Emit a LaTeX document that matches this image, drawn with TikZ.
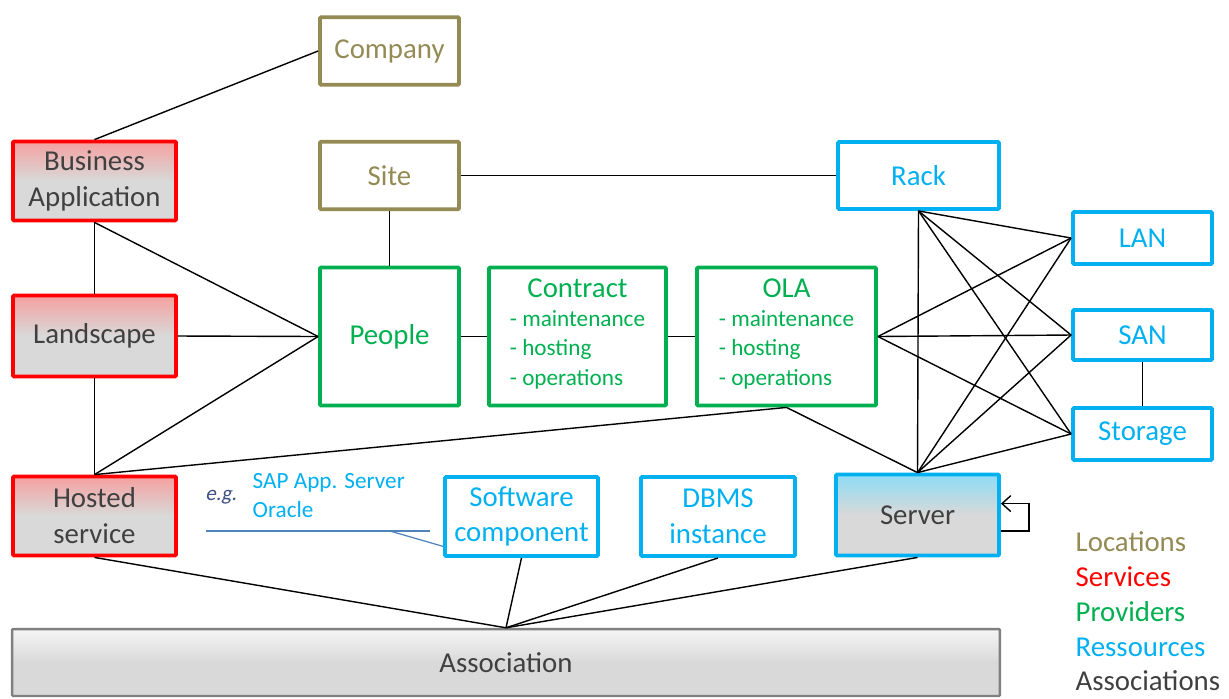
\documentclass[tikz,border=0pt]{standalone}
\usepackage{fontspec}
\setmainfont{Carlito}
\newfontfamily\egfont[FakeSlant=0.2]{Carlito}
\usepackage{xcolor}
\usepackage{tikz}
\usetikzlibrary{arrows.meta,positioning,calc}
\definecolor{locol}{RGB}{148,138,84}
\definecolor{svcol}{RGB}{255,0,0}
\definecolor{prcol}{RGB}{0,176,80}
\definecolor{recol}{RGB}{0,176,240}
\definecolor{ascol}{RGB}{64,64,64}
\definecolor{boxgray}{RGB}{217,217,217}
\definecolor{svtop}{RGB}{245,160,160}
\definecolor{retop}{RGB}{140,220,245}
\definecolor{egcol}{RGB}{79,129,189}
\definecolor{egdark}{RGB}{60,80,130}
\newcommand{\bigtxt}{\fontsize{16.4pt}{20.4pt}\selectfont}
\newcommand{\smalltxt}{\fontsize{13.2pt}{17pt}\selectfont}
\tikzset{
  every node/.append style={font=\bigtxt},
  box/.style={draw, line width=2.2pt, rounded corners=0.6pt, align=center, inner sep=2pt},
  locbox/.style={box, draw=locol, text=locol, minimum width=2.78cm, minimum height=1.35cm},
  svcbox/.style={box, draw=svcol, text=ascol, minimum width=3.26cm,
    top color=svtop, bottom color=boxgray, middle color=boxgray},
  provbox/.style={box, draw=prcol, text=prcol, minimum height=2.76cm},
  resbox/.style={box, draw=recol, text=recol},
  assocbox/.style={box, draw=black!50, line width=1.4pt, text=ascol,
    top color=white!96!black, bottom color=boxgray, middle color=boxgray},
  legend/.style={anchor=base west, inner sep=0pt, text depth=0pt}
}

\begin{document}
\begin{tikzpicture}[x=0.02cm, y=-0.02cm, line width=0.8pt]
      \useasboundingbox (0,0) rectangle (1229,698);

      \node[locbox] at (389.5,51) (company) {Company};
      \node[locbox] at (389.5,175.5) (site) {Site};

      \node[svcbox, minimum height=1.58cm] at (94.5,181) (bizapp) {Business\\Application};
      \node[svcbox, minimum height=1.62cm] at (94.5,336) (landscape) {Landscape};
      \node[svcbox, minimum height=1.58cm] at (94.5,516) (hosted) {Hosted\\service};

      \node[provbox, minimum width=2.78cm] at (389.5,336.5) (people) {People};
      \node[provbox, minimum width=3.54cm] at (577.5,336.5) (contract)
        {Contract\\[3.5pt]{\smalltxt\begin{tabular}{@{}l@{}}- maintenance\\- hosting\\- operations\end{tabular}}};
      \node[provbox, minimum width=3.58cm] at (786.5,336.5) (ola)
        {OLA\\[3.5pt]{\smalltxt\begin{tabular}{@{}l@{}}- maintenance\\- hosting\\- operations\end{tabular}}};

      \node[resbox, minimum width=3.22cm, minimum height=1.34cm] at (918.5,175.5) (rack) {Rack};
      \node[resbox, minimum width=2.78cm, minimum height=1.04cm] at (1142.5,238) (lan) {LAN};
      \node[resbox, minimum width=2.78cm, minimum height=1.0cm] at (1142.5,335) (san) {SAN};
      \node[resbox, minimum width=2.78cm, minimum height=1.04cm] at (1142.5,434) (storage) {Storage};
      \node[resbox, minimum width=3.06cm, minimum height=1.58cm] at (521.5,516.5) (software) {Software\\component};
      \node[resbox, minimum width=3.08cm, minimum height=1.58cm] at (718,516.5) (dbms) {DBMS\\instance};
      \node[resbox, text=ascol, minimum width=3.26cm, minimum height=1.62cm,
        top color=retop, bottom color=boxgray, middle color=boxgray] at (917.5,515) (server) {Server};

      \node[assocbox, minimum width=19.76cm, minimum height=1.34cm] at (506,662.5) (assoc) {Association};

      \node[font=\fontsize{12pt}{14pt}\egfont, text=egdark] at (221,497) (eg) {e.g.};
      \node[legend, anchor=west, text depth=, font=\smalltxt, text=recol, align=left] at (252,495.5) (egtext)
        {SAP App. Server\\[-0.5pt]Oracle};
      \coordinate (egleft) at (206,531);
      \coordinate (egright) at (430,531);
      \coordinate (egknee) at (390,531);
      \draw[egcol, line width=0.7pt] (egleft) -- (egright);
      \draw[egcol, line width=0.7pt] (egknee) -- ([yshift=-17pt]software.west);

      \draw (bizapp.north) -- (company.west);
      \draw (bizapp.south) -- (landscape.north);
      \draw (bizapp.south) -- (people.west);
      \draw (landscape.east) -- (people.west);
      \draw (landscape.south) -- (hosted.north);
      \draw (hosted.north) -- (people.west);
      \draw (hosted.north) -- (ola.south);
      \draw (site.south) -- (people.north);
      \draw (site.east) -- (rack.west);
      \draw (people.east) -- (contract.west);
      \draw (contract.east) -- (ola.west);
      \draw (ola.south) -- (server.north);
      \draw (ola.east) -- (lan.west);
      \draw (ola.east) -- (san.west);
      \draw (ola.east) -- (storage.west);
      \draw (rack.south) -- (server.north);
      \draw (rack.south) -- (lan.west);
      \draw (rack.south) -- (san.west);
      \draw (rack.south) -- (storage.west);
      \draw (server.north) -- (lan.west);
      \draw (server.north) -- (san.west);
      \draw (server.north) -- (storage.west);
      \draw (san.south) -- (storage.north);
      \draw[-{Straight Barb[length=5pt,width=9pt]}] ([yshift=-9pt]server.east) -- ++(28,0)
        |- ([yshift=6.5pt]server.east);

      \draw (hosted.south) -- (assoc.north);
      \draw (software.south) -- (assoc.north);
      \draw (dbms.south) -- (assoc.north);
      \draw (server.south) -- (assoc.north);

      \node[legend, text=locol] at (1075,551) (leg1) {Locations};
      \node[legend, text=svcol] at (1075,586) (leg2) {Services};
      \node[legend, text=prcol] at (1075,621) (leg3) {Providers};
      \node[legend, text=recol] at (1075,656) (leg4) {Ressources};
      \node[legend, text=ascol] at (1075,690) (leg5) {Associations};
    \end{tikzpicture}
\end{document}
